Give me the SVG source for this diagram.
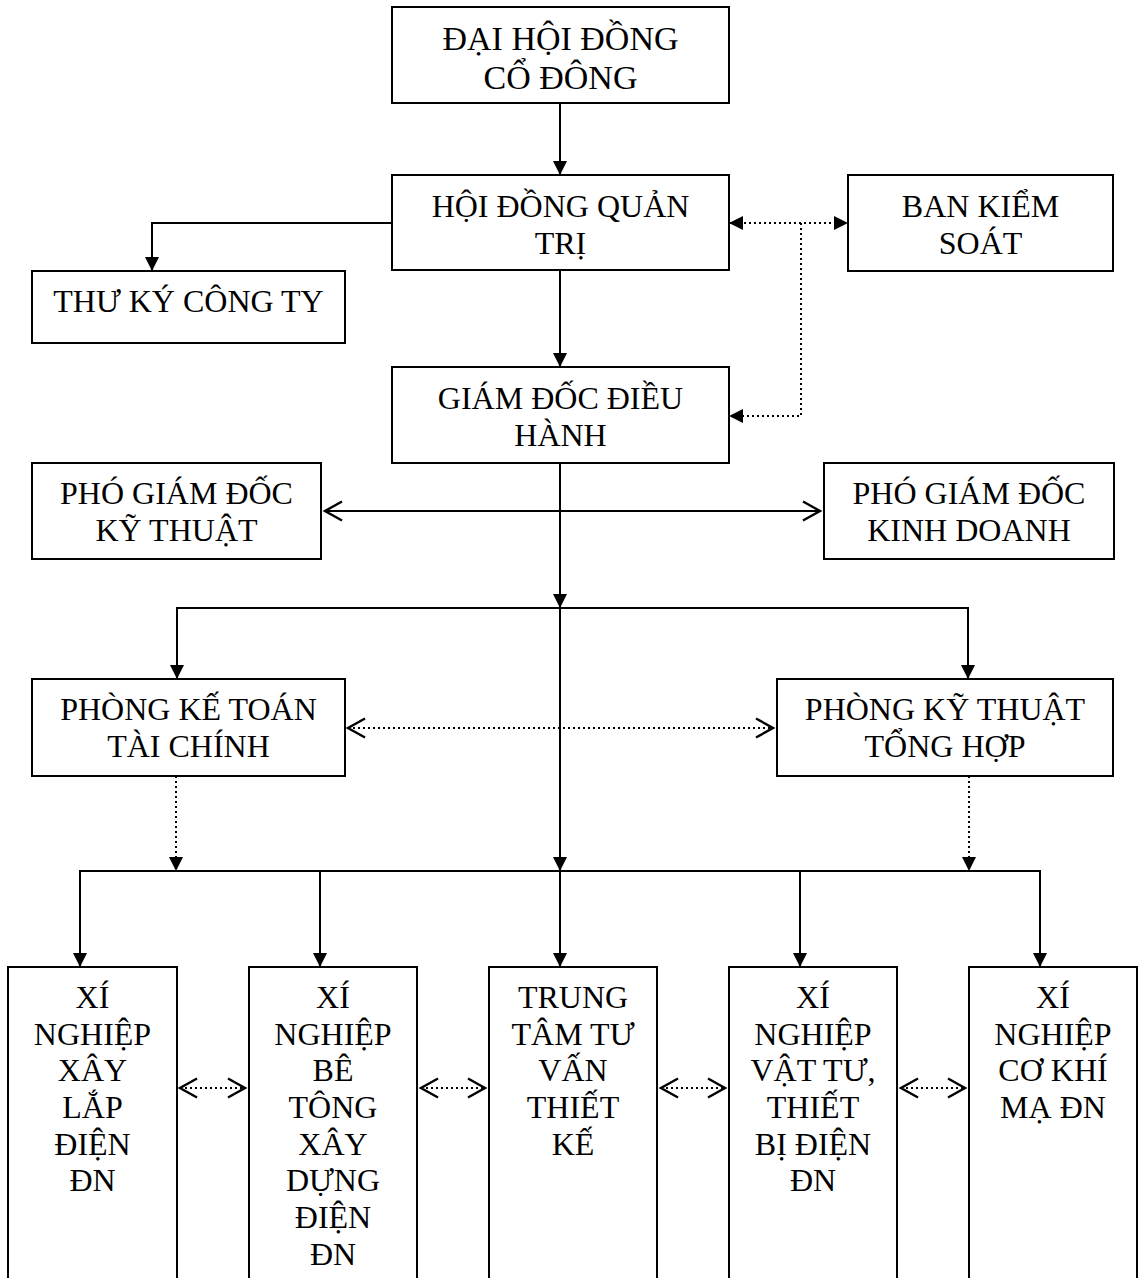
<svg xmlns="http://www.w3.org/2000/svg" width="1138" height="1278" viewBox="0 0 1138 1278">
  <style>
    .box { fill: #fff; stroke: #000; stroke-width: 2; }
    .lbl { font-family: "Liberation Serif", "Times New Roman", serif; font-size: 32px; fill: #000; text-anchor: middle; }
    .big { font-size: 34px; }
    .ln { fill: none; stroke: #000; stroke-width: 2; }
    .dot { fill: none; stroke: #000; stroke-width: 2; stroke-dasharray: 2 3; }
  </style>
  <defs>
    <!-- solid filled arrowhead -->
    <marker id="tri" viewBox="0 0 14 14" refX="14" refY="7" markerWidth="14" markerHeight="14" markerUnits="userSpaceOnUse" orient="auto-start-reverse">
      <path d="M0,0 L14,7 L0,14 z" fill="#000"/>
    </marker>
    <!-- open chevron arrowhead -->
    <marker id="chev" viewBox="-2 -2 22 23" refX="17" refY="9.5" markerWidth="22" markerHeight="23" markerUnits="userSpaceOnUse" orient="auto-start-reverse" overflow="visible">
      <path d="M0,0 L17,9.5 L0,19" fill="none" stroke="#000" stroke-width="2.4"/>
    </marker>
  </defs>

  <rect width="1138" height="1278" fill="#fff"/>

  <!-- connectors -->
  <g id="connectors">
    <!-- main vertical chain -->
    <path class="ln" d="M560,103 V175" marker-end="url(#tri)"/>
    <path class="ln" d="M560,270 V367" marker-end="url(#tri)"/>
    <path class="ln" d="M560,463 V608" marker-end="url(#tri)"/>
    <path class="ln" d="M560,608 V871" marker-end="url(#tri)"/>
    <path class="ln" d="M560,871 V967" marker-end="url(#tri)"/>

    <!-- board to company secretary -->
    <path class="ln" d="M392,223 H152 V271" marker-end="url(#tri)"/>

    <!-- supervisory board links -->
    <path class="dot" d="M729,223 H848" marker-start="url(#tri)" marker-end="url(#tri)"/>
    <path class="dot" d="M801,223 V416 H729" marker-end="url(#tri)"/>

    <!-- deputy directors -->
    <path class="ln" d="M325,511 H820" marker-start="url(#chev)" marker-end="url(#chev)"/>

    <!-- departments -->
    <path class="ln" d="M177,679 V608 H968 V679" marker-start="url(#tri)" marker-end="url(#tri)"/>
    <path class="dot" d="M348,728 H773" marker-start="url(#chev)" marker-end="url(#chev)"/>
    <path class="dot" d="M176,776 V871" marker-end="url(#tri)"/>
    <path class="dot" d="M969,776 V871" marker-end="url(#tri)"/>

    <!-- units -->
    <path class="ln" d="M80,967 V871 H1040 V967" marker-start="url(#tri)" marker-end="url(#tri)"/>
    <path class="ln" d="M320,871 V967" marker-end="url(#tri)"/>
    <path class="ln" d="M800,871 V967" marker-end="url(#tri)"/>

    <path class="dot" d="M180,1088 H245" marker-start="url(#chev)" marker-end="url(#chev)"/>
    <path class="dot" d="M421,1088 H485" marker-start="url(#chev)" marker-end="url(#chev)"/>
    <path class="dot" d="M661,1088 H725" marker-start="url(#chev)" marker-end="url(#chev)"/>
    <path class="dot" d="M901,1088 H965" marker-start="url(#chev)" marker-end="url(#chev)"/>
  </g>

  <!-- nodes -->
  <g id="dai-hoi-dong-co-dong">
    <rect class="box" x="392" y="7" width="337" height="96"/>
    <text class="lbl big" x="560.5" y="50">ĐẠI HỘI ĐỒNG</text>
    <text class="lbl big" x="560.5" y="89">CỔ ĐÔNG</text>
  </g>

  <g id="hoi-dong-quan-tri">
    <rect class="box" x="392" y="175" width="337" height="95"/>
    <text class="lbl" x="560.5" y="217">HỘI ĐỒNG QUẢN</text>
    <text class="lbl" x="560.5" y="254">TRỊ</text>
  </g>

  <g id="ban-kiem-soat">
    <rect class="box" x="848" y="175" width="265" height="96"/>
    <text class="lbl" x="980.5" y="217">BAN KIỂM</text>
    <text class="lbl" x="980.5" y="254">SOÁT</text>
  </g>

  <g id="thu-ky">
    <rect class="box" x="32" y="271" width="313" height="72"/>
    <text class="lbl" x="188.5" y="312">THƯ KÝ CÔNG TY</text>
  </g>

  <g id="giam-doc">
    <rect class="box" x="392" y="367" width="337" height="96"/>
    <text class="lbl" x="560.5" y="409">GIÁM ĐỐC ĐIỀU</text>
    <text class="lbl" x="560.5" y="446">HÀNH</text>
  </g>

  <g id="pgd-ky-thuat">
    <rect class="box" x="32" y="463" width="289" height="96"/>
    <text class="lbl" x="176.5" y="504">PHÓ GIÁM ĐỐC</text>
    <text class="lbl" x="176.5" y="541">KỸ THUẬT</text>
  </g>

  <g id="pgd-kinh-doanh">
    <rect class="box" x="824" y="463" width="290" height="96"/>
    <text class="lbl" x="969" y="504">PHÓ GIÁM ĐỐC</text>
    <text class="lbl" x="969" y="541">KINH DOANH</text>
  </g>

  <g id="phong-ke-toan">
    <rect class="box" x="32" y="679" width="313" height="97"/>
    <text class="lbl" x="188.5" y="720">PHÒNG KẾ TOÁN</text>
    <text class="lbl" x="188.5" y="757">TÀI CHÍNH</text>
  </g>

  <g id="phong-ky-thuat">
    <rect class="box" x="777" y="679" width="336" height="97"/>
    <text class="lbl" x="945" y="720">PHÒNG KỸ THUẬT</text>
    <text class="lbl" x="945" y="757">TỔNG HỢP</text>
  </g>

  <g id="xn-xay-lap">
    <rect class="box" x="8" y="967" width="169" height="330"/>
    <text class="lbl" x="92.5" y="1008">XÍ</text>
    <text class="lbl" x="92.5" y="1045">NGHIỆP</text>
    <text class="lbl" x="92.5" y="1081">XÂY</text>
    <text class="lbl" x="92.5" y="1118">LẮP</text>
    <text class="lbl" x="92.5" y="1155">ĐIỆN</text>
    <text class="lbl" x="92.5" y="1191">ĐN</text>
  </g>

  <g id="xn-be-tong">
    <rect class="box" x="249" y="967" width="168" height="330"/>
    <text class="lbl" x="333" y="1008">XÍ</text>
    <text class="lbl" x="333" y="1045">NGHIỆP</text>
    <text class="lbl" x="333" y="1081">BÊ</text>
    <text class="lbl" x="333" y="1118">TÔNG</text>
    <text class="lbl" x="333" y="1155">XÂY</text>
    <text class="lbl" x="333" y="1191">DỰNG</text>
    <text class="lbl" x="333" y="1228">ĐIỆN</text>
    <text class="lbl" x="333" y="1265">ĐN</text>
  </g>

  <g id="tt-tu-van">
    <rect class="box" x="489" y="967" width="168" height="330"/>
    <text class="lbl" x="573" y="1008">TRUNG</text>
    <text class="lbl" x="573" y="1045">TÂM TƯ</text>
    <text class="lbl" x="573" y="1081">VẤN</text>
    <text class="lbl" x="573" y="1118">THIẾT</text>
    <text class="lbl" x="573" y="1155">KẾ</text>
  </g>

  <g id="xn-vat-tu">
    <rect class="box" x="729" y="967" width="168" height="330"/>
    <text class="lbl" x="813" y="1008">XÍ</text>
    <text class="lbl" x="813" y="1045">NGHIỆP</text>
    <text class="lbl" x="813" y="1081">VẬT TƯ,</text>
    <text class="lbl" x="813" y="1118">THIẾT</text>
    <text class="lbl" x="813" y="1155">BỊ ĐIỆN</text>
    <text class="lbl" x="813" y="1191">ĐN</text>
  </g>

  <g id="xn-co-khi">
    <rect class="box" x="969" y="967" width="168" height="330"/>
    <text class="lbl" x="1053" y="1008">XÍ</text>
    <text class="lbl" x="1053" y="1045">NGHIỆP</text>
    <text class="lbl" x="1053" y="1081">CƠ KHÍ</text>
    <text class="lbl" x="1053" y="1118">MẠ ĐN</text>
  </g>
</svg>
